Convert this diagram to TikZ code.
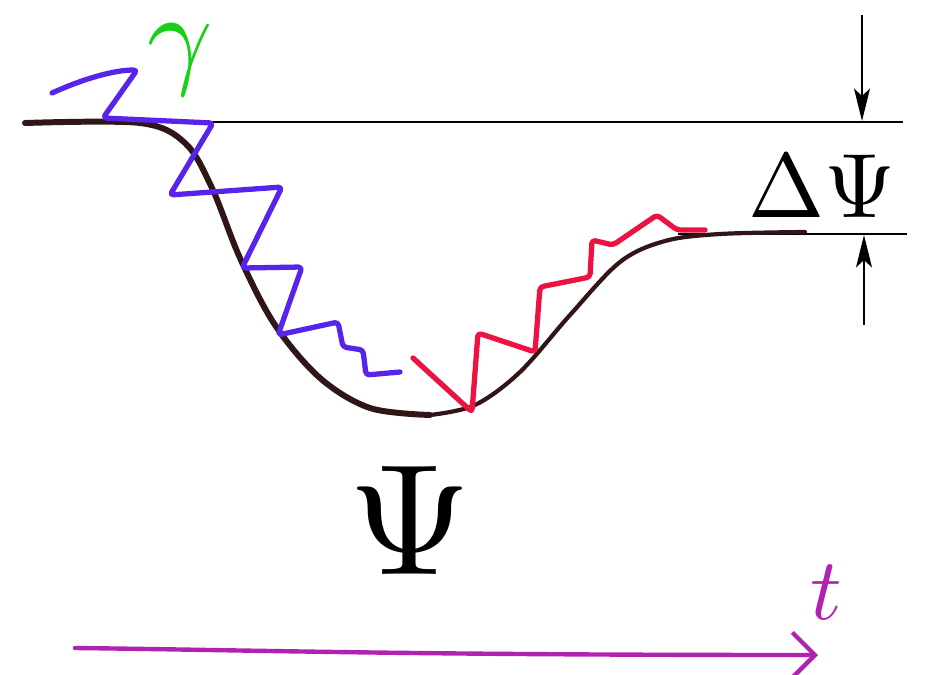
\documentclass[tikz,border=0pt]{standalone}
\usetikzlibrary{arrows.meta}
\definecolor{wellbrown}{RGB}{48,22,22}
\definecolor{waveblue}{RGB}{88,36,236}
\definecolor{wavered}{RGB}{236,18,66}
\definecolor{gammagreen}{RGB}{24,208,24}
\definecolor{timemag}{RGB}{178,34,178}
\begin{document}
\begin{tikzpicture}[
  x=0.02cm,y=-0.02cm,
  level/.style={line width=1.1pt,black},
  dimarr/.style={line width=0.9pt,-{Stealth[length=6.5mm,width=3.2mm,inset=1.5mm]}},
  well/.style={line width=3.4pt,wellbrown,line cap=round,line join=round},
  wellthin/.style={line width=2.4pt,wellbrown,line cap=round,line join=round},
  wave/.style={line width=3pt,line cap=round,line join=round,rounded corners=2pt},
  symb/.style={inner sep=0pt,anchor=center}
]
\useasboundingbox (0,0) rectangle (927,674);

% levels
\coordinate (topL) at (140,122);
\coordinate (topR) at (903,122);
\coordinate (lowL) at (678,234);
\coordinate (lowR) at (907,234);
\draw[level] (topL) -- (topR);
\draw[level] (lowL) -- (lowR);

% dimension arrows
\coordinate (dnA) at (862,15);
\coordinate (dnB) at (862,121);
\coordinate (upA) at (864,325);
\coordinate (upB) at (864,235);
\draw[dimarr] (dnA) -- (dnB);
\draw[dimarr] (upA) -- (upB);

% potential well
\draw[well] plot[smooth,tension=0.55] coordinates {(25,123) (140,123) (185,143) (212,188) (240,258) (275,325) (320,378) (370,408) (430,415)};
\draw[wellthin] plot[smooth,tension=0.55] coordinates {(430,415) (475,405) (520,372) (570,315) (620,262) (665,241) (720,234) (805,232)};

% incoming wave
\draw[wave,waveblue] (52,93) .. controls (85,78) and (115,70) .. (137,70) -- (103,118) -- (213,123) -- (170,195) -- (282,187) -- (242,268) -- (302,267) -- (278,335) -- (338,322) -- (343,347) -- (363,350) -- (366,375) -- (400,372);

% outgoing wave
\draw[wave,wavered] (413,358) -- (472,412) -- (478,333) -- (535,352) -- (540,287) -- (590,277) -- (592,240) -- (613,245) -- (657,215) -- (677,230) -- (705,230);

% time axis
\coordinate (tA) at (75,648);
\coordinate (tB) at (818,655);
\draw[timemag,line width=2.5pt,line cap=round,-{Straight Barb[length=4.5mm,width=9mm,line width=2.5pt]}] (tA) .. controls (250,650) and (400,655) .. (tB);

% labels
\node[symb,text=gammagreen,scale=6.5] (gam) at (180,60) {$\gamma$};
\node[symb,scale=9] (psi) at (410,520) {$\Psi$};
\node[symb,scale=5.2] (dpsi) at (822,186) {$\Delta\Psi$};
\node[symb,text=timemag,scale=5] (tlab) at (826,592) {$t$};
\end{tikzpicture}
\end{document}
